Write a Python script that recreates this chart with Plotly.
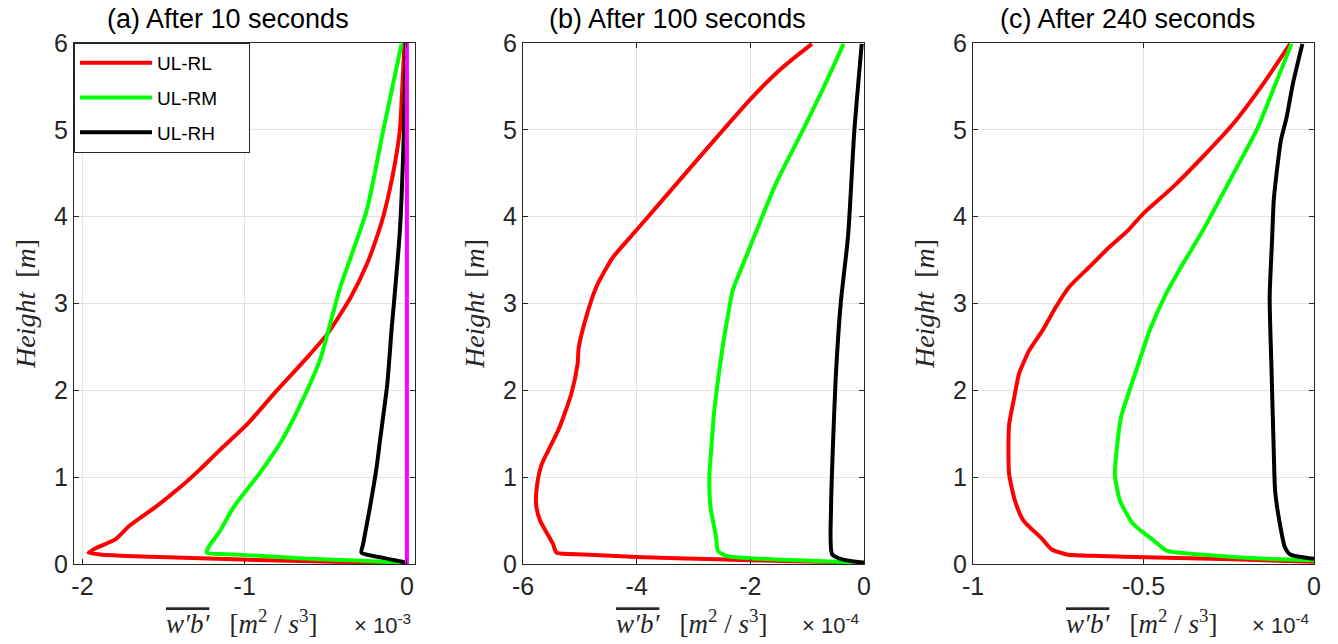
import plotly.graph_objects as go

# ---------------- data ----------------
series_names = ["UL-RL", "UL-RM", "UL-RH"]
panel_titles = ["(a) After 10 seconds", "(b) After 100 seconds", "(c) After 240 seconds"]
exponent_labels = ["-3", "-4", "-4"]

# Panel (a): values x 1e-3
ya_rl = [0.015, 0.027, 0.042, 0.066, 0.089, 0.11, 0.13, 0.19, 0.28, 0.44, 0.67, 0.88, 1.09, 1.30,
         1.61, 1.96, 2.38, 2.65, 3.07, 3.46, 3.84, 4.0, 4.3, 4.61, 5.0, 5.5, 6.0]
xa_rl = [0.0, -0.454, -0.864, -1.275, -1.686, -1.89, -1.963, -1.91, -1.80, -1.71, -1.54, -1.40, -1.275, -1.16,
         -0.984, -0.82, -0.614, -0.49, -0.347, -0.245, -0.172, -0.146, -0.107, -0.074, -0.043, -0.028, -0.015]
ya_rm = [0.015, 0.035, 0.05, 0.066, 0.089, 0.11, 0.13, 0.19, 0.38, 0.65, 1.05, 1.42, 1.92, 2.38, 2.65,
         3.19, 4.07, 4.99, 5.99]
xa_rm = [0.0, -0.248, -0.454, -0.66, -0.864, -1.07, -1.234, -1.224, -1.152, -1.07, -0.906, -0.772, -0.635, -0.53, -0.49,
         -0.41, -0.248, -0.146, -0.033]
ya_rh = [0.015, 0.07, 0.13, 0.23, 0.65, 1.11, 1.42, 2.07, 2.71, 3.0, 3.84, 5.0, 6.0]
xa_rh = [0.0, -0.146, -0.28, -0.27, -0.228, -0.187, -0.166, -0.121, -0.094, -0.08, -0.043, -0.018, -0.006]
ya_ref = [0.0, 6.0]
xa_ref = [0.0, 0.0]

# Panel (b): values x 1e-4
yb_rl = [0.015, 0.035, 0.054, 0.08, 0.11, 0.13, 0.23, 0.30, 0.50, 0.69, 0.92, 1.15, 1.34, 1.57, 1.96,
         2.30, 2.49, 2.84, 3.19, 3.53, 3.84, 4.15, 4.53, 4.99, 5.38, 5.72, 5.99]
xb_rl = [0.0, -1.43, -2.6, -4.0, -4.94, -5.41, -5.47, -5.53, -5.70, -5.77, -5.75, -5.67, -5.53, -5.36, -5.15,
         -5.04, -5.02, -4.89, -4.71, -4.42, -4.01, -3.60, -3.10, -2.49, -1.96, -1.43, -0.917]
yb_rm = [0.015, 0.035, 0.05, 0.066, 0.092, 0.15, 0.30, 0.65, 1.03, 1.30, 1.73, 2.11, 2.49, 2.84, 3.15,
         3.53, 3.84, 4.38, 4.99, 5.46, 5.99]
xb_rm = [0.0, -0.84, -1.43, -2.01, -2.42, -2.57, -2.60, -2.70, -2.72, -2.69, -2.64, -2.57, -2.49, -2.40, -2.31,
         -2.08, -1.89, -1.55, -1.08, -0.73, -0.36]
yb_rh = [0.015, 0.05, 0.11, 0.65, 1.30, 2.11, 3.0, 3.78, 4.99, 5.99]
xb_rh = [0.0, -0.37, -0.56, -0.58, -0.55, -0.50, -0.41, -0.28, -0.17, -0.04]

# Panel (c): values x 1e-4
yc_rl = [0.027, 0.054, 0.073, 0.092, 0.11, 0.17, 0.30, 0.50, 0.73, 1.03, 1.30, 1.61, 1.92, 2.19, 2.46,
         2.69, 2.96, 3.19, 3.42, 3.65, 3.84, 4.03, 4.34, 4.69, 5.07, 5.53, 5.99]
xc_rl = [0.0, -0.237, -0.432, -0.628, -0.725, -0.77, -0.80, -0.852, -0.877, -0.894, -0.896, -0.894, -0.879, -0.865, -0.835,
         -0.796, -0.757, -0.718, -0.659, -0.60, -0.546, -0.502, -0.414, -0.326, -0.237, -0.149, -0.07]
yc_rm = [0.042, 0.06, 0.08, 0.11, 0.15, 0.27, 0.46, 0.73, 1.03, 1.30, 1.69, 2.0, 2.34, 2.69, 3.11,
         3.46, 3.84, 4.49, 4.99, 5.46, 5.99]
xc_rm = [0.0, -0.139, -0.237, -0.334, -0.43, -0.47, -0.53, -0.569, -0.584, -0.579, -0.566, -0.541, -0.512, -0.482, -0.434,
         -0.384, -0.326, -0.237, -0.169, -0.12, -0.066]
yc_rh = [0.06, 0.11, 0.19, 0.46, 0.84, 1.30, 2.30, 3.07, 3.73, 4.19, 4.49, 4.88, 5.15, 5.53, 5.99]
xc_rh = [0.0, -0.07, -0.085, -0.10, -0.114, -0.118, -0.125, -0.13, -0.123, -0.118, -0.11, -0.097, -0.08, -0.062, -0.034]

# Tick labels
y_ticks = [0, 1, 2, 3, 4, 5, 6]
y_ticktext = ["0", "1", "2", "3", "4", "5", "6"]
xa_ticks = [-2, -1, 0]
xa_ticktext = ["-2", "-1", "0"]
xb_ticks = [-6, -4, -2, 0]
xb_ticktext = ["-6", "-4", "-2", "0"]
xc_ticks = [-1, -0.5, 0]
xc_ticktext = ["-1", "-0.5", "0"]

colors = ["#ff0000", "#00ff00", "#000000"]
ref_color = "#ff00ff"

# ---------------- figure ----------------
W, H = 1338, 644
fig = go.Figure()

panels = [
    ([(xa_rl, ya_rl), (xa_rm, ya_rm), (xa_rh, ya_rh)], "x", "y"),
    ([(xb_rl, yb_rl), (xb_rm, yb_rm), (xb_rh, yb_rh)], "x2", "y2"),
    ([(xc_rl, yc_rl), (xc_rm, yc_rm), (xc_rh, yc_rh)], "x3", "y3"),
]

pad = "\u00a0" * 5
for p, (curves, xa, ya) in enumerate(panels):
    for i, (xs, ys) in enumerate(curves):
        fig.add_trace(go.Scatter(
            x=xs, y=ys, mode="lines", name=series_names[i] + pad,
            line=dict(color=colors[i], width=4, shape="spline", smoothing=0.6),
            xaxis=xa, yaxis=ya, showlegend=(p == 0), legendgroup=series_names[i],
        ))
    if p == 0:
        fig.add_trace(go.Scatter(
            x=xa_ref, y=ya_ref, mode="lines", line=dict(color=ref_color, width=4),
            xaxis=xa, yaxis=ya, showlegend=False,
        ))

font_sans = "Liberation Sans, Arial, Helvetica, sans-serif"
font_serif = "Liberation Serif, Times New Roman, serif"
axcol = "#262626"
gridcol = "#e3e3e3"

domains = [[74 / W, 415 / W], [523 / W, 864 / W], [973 / W, 1314 / W]]
xranges = [[-2.052, 0.05], [-6, 0], [-1, 0]]
xtickvals = [xa_ticks, xb_ticks, xc_ticks]
xticktexts = [xa_ticktext, xb_ticktext, xc_ticktext]

xtitle = ("<span style='text-decoration:overline'><i>w′b′</i></span>"
          "   [<i>m</i><sup>2</sup> / <i>s</i><sup>3</sup>]")
ytitle = "<i>Height</i>  [<i>m</i>]"

common = dict(showline=True, linecolor=axcol, linewidth=1, mirror="ticks",
              ticks="inside", ticklen=5, tickcolor=axcol, tickwidth=1,
              showgrid=True, gridcolor=gridcol, gridwidth=1, zeroline=False,
              automargin=False,
              tickfont=dict(family=font_sans, size=25, color=axcol))

layout = {}
for k in range(3):
    sx = "" if k == 0 else str(k + 1)
    layout["xaxis" + sx] = dict(
        domain=domains[k], range=xranges[k], anchor="y" + sx,
        tickvals=xtickvals[k], ticktext=xticktexts[k],
        **common)
    layout["yaxis" + sx] = dict(
        domain=[0, 1], range=[0, 6], anchor="x" + sx,
        tickvals=y_ticks, ticktext=y_ticktext,
        title=dict(text=ytitle, font=dict(family=font_serif, size=28, color=axcol), standoff=10),
        **common)

annotations = []
for k in range(3):
    sx = "" if k == 0 else str(k + 1)
    xd = "x" + sx + " domain"
    yd = "y" + sx + " domain"
    annotations.append(dict(
        text=panel_titles[k], xref=xd, yref=yd,
        x=0.5, y=1, xanchor="center", yanchor="bottom", yshift=7, xshift=-16, showarrow=False,
        font=dict(family=font_sans, size=27, color="#000000")))
    annotations.append(dict(
        text=xtitle, xref=xd, yref=yd,
        x=0.5, y=0, xanchor="center", yanchor="middle", yshift=-58, xshift=-2, showarrow=False,
        font=dict(family=font_serif, size=27, color=axcol)))
    annotations.append(dict(
        text="× 10<sup>" + exponent_labels[k] + "</sup>",
        xref=xd, yref=yd,
        x=1, y=0, xanchor="right", yanchor="middle", yshift=-60, xshift=-2, showarrow=False,
        font=dict(family=font_sans, size=22, color=axcol)))

fig.update_layout(
    width=W, height=H,
    margin=dict(l=0, r=0, t=43, b=80),
    paper_bgcolor="white", plot_bgcolor="white",
    annotations=annotations,
    legend=dict(x=74 / W, y=1, xanchor="left", yanchor="top",
                bordercolor=axcol, borderwidth=1, bgcolor="white",
                font=dict(family=font_sans, size=19, color="#000000"),
                tracegroupgap=7, itemwidth=72),
    **layout,
)

fig.write_html("out.html", config={"displayModeBar": False},
               post_script="document.body.style.margin='0';")
